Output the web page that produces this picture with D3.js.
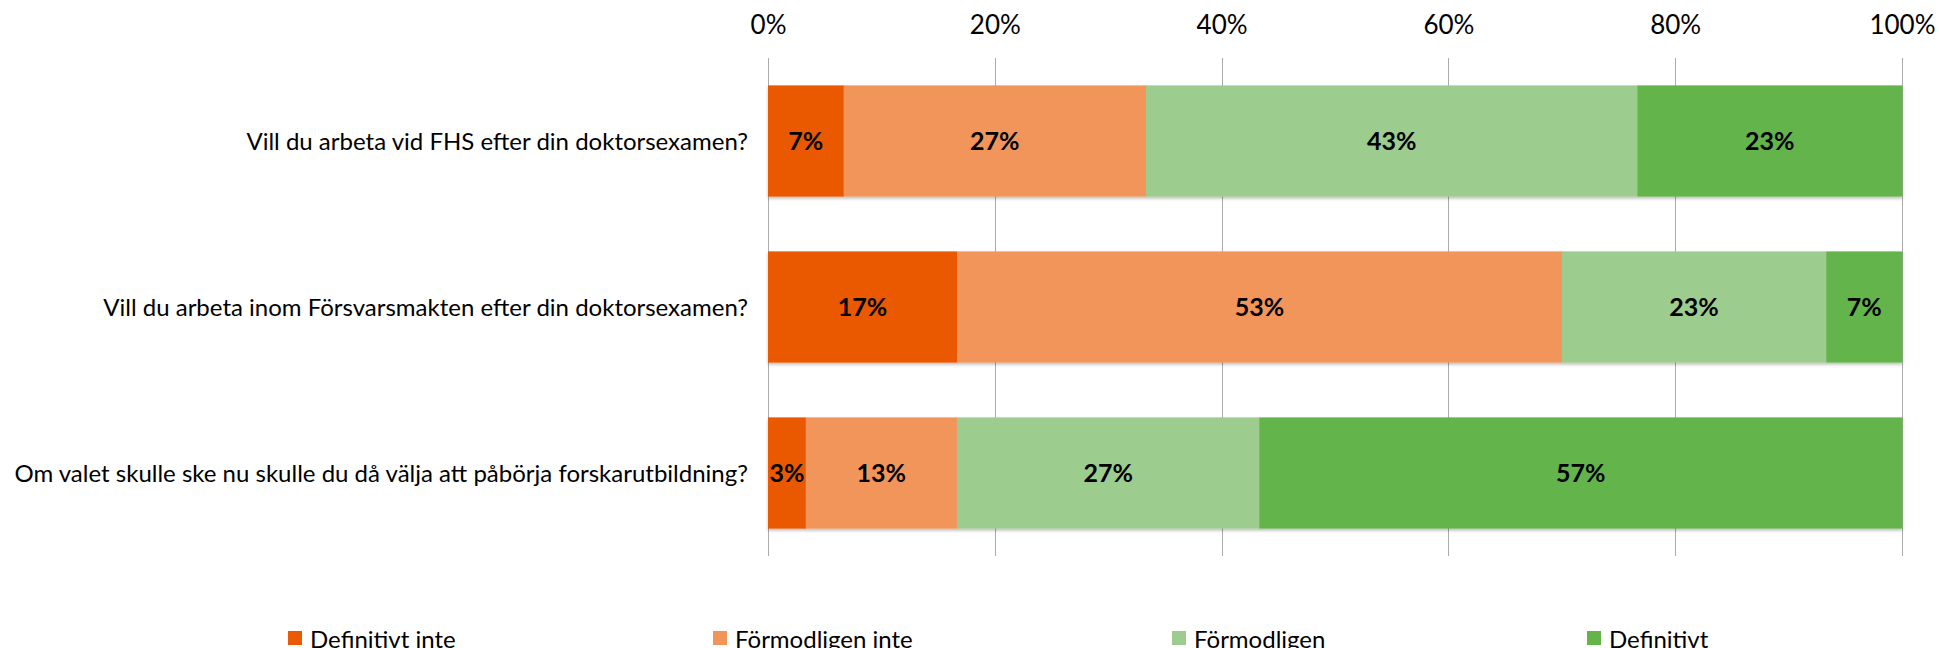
<!DOCTYPE html>
<html>
<head>
<meta charset="utf-8">
<script src="https://cdn.jsdelivr.net/npm/d3@7"></script>
<style>
  body { margin: 0; background: #fff; }
  svg { display: block; font-family: Lato, "Open Sans", sans-serif; }
</style>
</head>
<body>
<svg id="chart" width="1939" height="648"></svg>
<script>
// frågor (uppifrån och ned)
var questions = [
    "Vill du arbeta vid FHS efter din doktorsexamen?",
    "Vill du arbeta inom Försvarsmakten efter din doktorsexamen?",
    "Om valet skulle ske nu skulle du då välja att påbörja forskarutbildning?"
];
var seriesNames = ["Definitivt inte", "Förmodligen inte", "Förmodligen", "Definitivt"];
var seriesColors = ["#EA5904", "#F2955A", "#9DCC8F", "#64B44B"];
// andel i procent per fråga, en lista per serie
var definitivtInte   = [6.67, 16.67, 3.33];
var formodligenInte  = [26.67, 53.33, 13.33];
var formodligen      = [43.33, 23.33, 26.67];
var definitivt       = [23.33, 6.67, 56.67];
var tickValues = [0, 20, 40, 60, 80, 100];

var svg = d3.select("#chart");
var plotLeft = 768, plotRight = 1902, plotTop = 58, plotBottom = 556;

var x = d3.scaleLinear().domain([0, 100]).range([plotLeft, plotRight]);
var y = d3.scaleBand().domain(questions).range([plotTop, plotBottom]).paddingInner(0.33).paddingOuter(0.165);

// skugga under staplarna
var defs = svg.append("defs");
var f = defs.append("filter").attr("id", "shadow")
    .attr("x", "-5%").attr("y", "-10%").attr("width", "110%").attr("height", "130%");
f.append("feDropShadow").attr("dx", 0).attr("dy", 2).attr("stdDeviation", 1.5)
    .attr("flood-color", "#000").attr("flood-opacity", 0.25);

// rutnät
svg.append("g").selectAll("line")
    .data(tickValues)
    .enter().append("line")
    .attr("x1", function(d) { return Math.round(x(d)) + 0.5; })
    .attr("x2", function(d) { return Math.round(x(d)) + 0.5; })
    .attr("y1", plotTop)
    .attr("y2", plotBottom)
    .attr("stroke", "#ABABAB")
    .attr("stroke-width", 1);

// axel överst
var axis = d3.axisTop(x).tickValues(tickValues).tickSize(0).tickFormat(function(d) { return d + "%"; });
var ag = svg.append("g").attr("transform", "translate(0,37)").call(axis);
ag.select(".domain").remove();
ag.selectAll("text").attr("font-size", "26px").attr("fill", "#000").attr("dy", 0)
    .attr("font-family", "Lato, sans-serif");

// staplar
var series = [definitivtInte, formodligenInte, formodligen, definitivt];
var stacked = questions.map(function(q, i) {
    var acc = 0;
    return series.map(function(s, k) {
        var seg = { q: q, k: k, x0: acc, x1: acc + s[i], v: s[i] };
        acc += s[i];
        return seg;
    });
});

var rows = svg.append("g").selectAll("g.row")
    .data(stacked)
    .enter().append("g")
    .attr("class", "row")
    .attr("filter", "url(#shadow)");

rows.selectAll("rect")
    .data(function(d) { return d; })
    .enter().append("rect")
    .attr("x", function(d) { return x(d.x0); })
    .attr("width", function(d) { return x(d.x1) - x(d.x0) + 0.5; })
    .attr("y", function(d) { return y(d.q); })
    .attr("height", y.bandwidth())
    .attr("fill", function(d) { return seriesColors[d.k]; });

// procentetiketter
svg.append("g").selectAll("g.lab")
    .data(stacked)
    .enter().append("g")
    .selectAll("text")
    .data(function(d) { return d; })
    .enter().append("text")
    .attr("x", function(d) { return (x(d.x0) + x(d.x1)) / 2; })
    .attr("y", function(d) { return y(d.q) + y.bandwidth() / 2; })
    .attr("dy", "0.36em")
    .attr("text-anchor", "middle")
    .attr("font-size", "25px")
    .attr("font-weight", "bold")
    .attr("fill", "#000")
    .text(function(d) { return Math.round(d.v) + "%"; });

// frågetexter
svg.append("g").selectAll("text")
    .data(questions)
    .enter().append("text")
    .attr("x", 748)
    .attr("y", function(d) { return y(d) + y.bandwidth() / 2; })
    .attr("dy", "0.36em")
    .attr("text-anchor", "end")
    .attr("font-size", "24px")
    .attr("fill", "#000")
    .text(function(d) { return d; });

// teckenförklaring
var legendX = [288, 713, 1172, 1587];
var lg = svg.append("g").selectAll("g")
    .data(seriesNames)
    .enter().append("g")
    .attr("transform", function(d, i) { return "translate(" + legendX[i] + ",631)"; });
lg.append("rect").attr("width", 14).attr("height", 14)
    .attr("fill", function(d, i) { return seriesColors[i]; });
lg.append("text").attr("x", 22).attr("y", 8).attr("dy", "0.36em")
    .attr("font-size", "24px").attr("fill", "#000")
    .text(function(d) { return d; });
</script>
</body>
</html>
